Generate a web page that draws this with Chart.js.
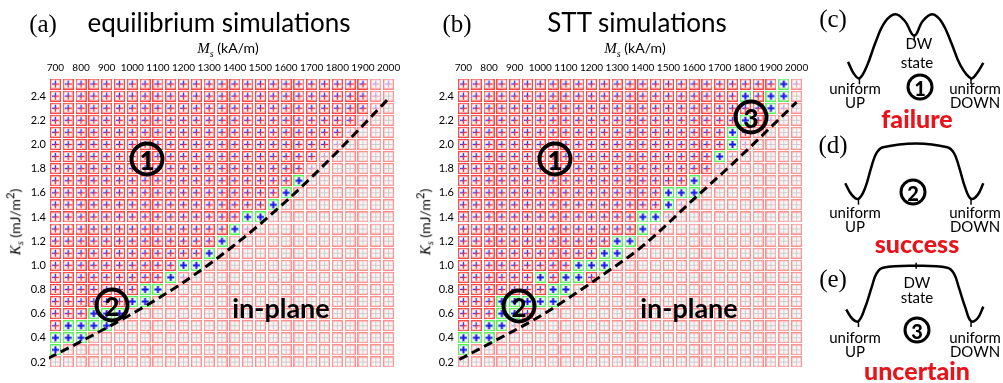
<!DOCTYPE html>
<html>
<head>
<meta charset="utf-8">
<script src="https://cdn.jsdelivr.net/npm/chart.js@4.4.1/dist/chart.umd.min.js"></script>
<style>
  html, body { margin: 0; padding: 0; background: #fff; }
  #wrap { position: relative; width: 1003px; height: 383px; overflow: hidden; font-family: Lato, 'Open Sans', sans-serif; color: #000; }
  canvas { position: absolute; top: 0; }
  .t { position: absolute; white-space: nowrap; transform: translate(-50%, -50%); line-height: 1; }
  .title { font-size: 26px; }
  .letter { font-family: 'Liberation Serif', serif; font-size: 25px; }
  .axis { font-size: 14px; }
  .axis i { font-family: 'Liberation Serif', serif; font-size: 15px; }
  .axis sub { font-family: 'Liberation Serif', serif; font-style: italic; font-size: 10px; }
  .vert { transform: translate(-50%, -50%) rotate(-90deg); }
  .circ { position: absolute; border: 3.5px solid #000; border-radius: 50%; box-sizing: border-box; transform: translate(-50%, -50%); display: flex; align-items: center; justify-content: center; font-weight: 900; line-height: 1; }
  .big { width: 35px; height: 35px; font-size: 26px; border-width: 4px; }
  .small { width: 27px; height: 27px; font-size: 20px; }
  .plane { font-size: 27px; font-weight: bold; }
  .sk { font-size: 15px; }
  .red { color: #e8141b; font-weight: 900; font-size: 25px; }
</style>
</head>
<body>
<div id="wrap">
  <canvas id="chartA" width="420" height="383" style="left:0px"></canvas>
  <canvas id="chartB" width="405" height="383" style="left:408px"></canvas>
  <canvas id="chartC" width="203" height="383" style="left:800px"></canvas>

  <!-- panel (a) -->
  <div class="t letter" style="left:43px;top:23px">(a)</div>
  <div class="t title" style="left:219px;top:22px">equilibrium simulations</div>
  <div class="t axis" style="left:228px;top:50px"><i>M</i><sub>s</sub> (kA/m)</div>
  <div class="t axis vert" style="left:15px;top:222px"><i>K</i><sub>s</sub> (mJ/m<sup>2</sup>)</div>
  <div class="circ big" style="left:147px;top:159px">1</div>
  <div class="circ big" style="left:112px;top:305px">2</div>
  <div class="t plane" style="left:281px;top:307px">in-plane</div>

  <!-- panel (b) -->
  <div class="t letter" style="left:457px;top:23px">(b)</div>
  <div class="t title" style="left:637px;top:22px">STT simulations</div>
  <div class="t axis" style="left:635px;top:50px"><i>M</i><sub>s</sub> (kA/m)</div>
  <div class="t axis vert" style="left:425px;top:222px"><i>K</i><sub>s</sub> (mJ/m<sup>2</sup>)</div>
  <div class="circ big" style="left:555px;top:159px">1</div>
  <div class="circ big" style="left:519px;top:306px">2</div>
  <div class="circ big" style="left:751px;top:117px">3</div>
  <div class="t plane" style="left:689px;top:307px">in-plane</div>

  <!-- sketches (c) (d) (e) -->
  <div class="t letter" style="left:833px;top:18px">(c)</div>
  <div class="t sk" style="left:919px;top:43px">DW</div>
  <div class="t sk" style="left:917px;top:62px">state</div>
  <div class="t sk" style="left:855px;top:88px">uniform</div>
  <div class="t sk" style="left:855px;top:102px">UP</div>
  <div class="t sk" style="left:975px;top:88px">uniform</div>
  <div class="t sk" style="left:975px;top:102px">DOWN</div>
  <div class="circ small" style="left:920px;top:87px">1</div>
  <div class="t red" style="left:917px;top:118px">failure</div>

  <div class="t letter" style="left:833px;top:144px">(d)</div>
  <div class="t sk" style="left:855px;top:212px">uniform</div>
  <div class="t sk" style="left:855px;top:226px">UP</div>
  <div class="t sk" style="left:975px;top:212px">uniform</div>
  <div class="t sk" style="left:975px;top:226px">DOWN</div>
  <div class="circ small" style="left:913px;top:192px">2</div>
  <div class="t red" style="left:917px;top:243px">success</div>

  <div class="t letter" style="left:833px;top:278px">(e)</div>
  <div class="t sk" style="left:917px;top:282px">DW</div>
  <div class="t sk" style="left:917px;top:297px">state</div>
  <div class="t sk" style="left:855px;top:337px">uniform</div>
  <div class="t sk" style="left:855px;top:351px">UP</div>
  <div class="t sk" style="left:975px;top:337px">uniform</div>
  <div class="t sk" style="left:975px;top:351px">DOWN</div>
  <div class="circ small" style="left:917px;top:330px">3</div>
  <div class="t red" style="left:917px;top:370px">uncertain</div>
</div>

<script>
// grid columns (Ms, kA/m) and rows (Ks, mJ/m^2), top row first
const msCols = [700, 750, 800, 850, 900, 950, 1000, 1050, 1100, 1150, 1200, 1250, 1300, 1350,
                1400, 1450, 1500, 1550, 1600, 1650, 1700, 1750, 1800, 1850, 1900, 1950, 2000];
const ksRows = [2.5, 2.4, 2.3, 2.2, 2.1, 2.0, 1.9, 1.8, 1.7, 1.6, 1.5, 1.4, 1.3, 1.2,
                1.1, 1.0, 0.9, 0.8, 0.7, 0.6, 0.5, 0.4, 0.3, 0.2];
const msTicks = [700, 800, 900, 1000, 1100, 1200, 1300, 1400, 1500, 1600, 1700, 1800, 1900, 2000];
const ksTicks = [0.2, 0.4, 0.6, 0.8, 1.0, 1.2, 1.4, 1.6, 1.8, 2.0, 2.2, 2.4];

// cell outcome per row, run-length: p = failure (perpendicular), g = success,
// f = faded / near boundary, i = in-plane
const stateA = [
  '25p,2f', '25p,1f,1i', '25p,1f,1i', '24p,1f,2i', '23p,1f,3i', '22p,1f,4i',
  '21p,1f,5i', '20p,1f,6i', '19p,1g,7i', '18p,1g,8i', '17p,1g,9i', '15p,2g,10i',
  '14p,1g,1f,11i', '13p,1g,13i', '12p,1g,14i', '10p,2g,15i', '9p,1g,1f,16i', '7p,2g,18i',
  '6p,2g,19i', '3p,3g,21i', '1p,4g,22i', '3g,24i', '1g,26i', '27i'
];
const stateB = [
  '25p,1g,1f', '22p,1g,1p,2g,1i', '24p,1g,1f,1i', '22p,1g,1p,1f,2i', '21p,1g,1p,1f,3i', '21p,1g,1f,4i',
  '20p,1g,1f,5i', '20p,1f,6i', '18p,1g,1f,7i', '16p,3g,8i', '16p,1g,1f,9i', '14p,2g,1f,10i',
  '14p,1g,1f,11i', '12p,2g,13i', '11p,2g,14i', '9p,3g,15i', '6p,1g,1p,2g,1p,16i', '7p,2g,18i',
  '3p,5g,19i', '3p,2g,1p,21i', '2p,2g,1f,22i', '3g,24i', '1g,26i', '27i'
];

// dashed in-plane boundary
const lineMsA = [672, 800, 1000, 1200, 1400, 1600, 1800, 2000];
const lineKsA = [0.23, 0.37, 0.60, 0.86, 1.17, 1.53, 1.94, 2.38];
const lineMsB = [684, 800, 1000, 1250, 1400, 1600, 1750, 2000];
const lineKsB = [0.22, 0.35, 0.58, 0.93, 1.16, 1.55, 1.84, 2.35];

// energy sketches, page pixel coords
const curveC = [[845,58],[851,70],[857,75],[865,62],[874,38],[884,17],[895,9],[905,16],[915,31],
                [924,16],[934,9],[944,17],[954,38],[964,62],[975,75],[981,70],[988,59]];
const curveD = [[842,183],[849,195],[856,199],[863,188],[870,165],[875,152],[882,146],[917,142],
                [950,146],[957,152],[962,165],[969,188],[975,199],[982,195],[988,183]];
const curveE = [[843,313],[850,323],[856,325],[863,311],[870,290],[875,276],[882,270],[917,268],
                [950,270],[957,276],[962,290],[969,311],[975,325],[982,322],[988,310]];
const markers = [[857,78],[975,78],[915,34],[856,202],[975,202],[856,328],[975,328],[917,268]];

function expand(rle) {
  const out = [];
  rle.split(',').forEach(part => {
    const n = parseInt(part, 10);
    const k = part.replace(/[0-9]/g, '');
    for (let j = 0; j < n; j++) out.push(k);
  });
  return out;
}

// little cell glyphs used as point styles
function glyph(kind) {
  const c = document.createElement('canvas');
  c.width = 11; c.height = 11;
  const g = c.getContext('2d');
  g.fillStyle = kind === 'i' ? '#f7f7f7' : '#fff';
  g.fillRect(0, 0, 11, 11);
  const seg = (x1, y1, x2, y2, col, w) => {
    g.strokeStyle = col; g.lineWidth = w;
    g.beginPath(); g.moveTo(x1, y1); g.lineTo(x2, y2); g.stroke();
  };
  const box = col => { g.strokeStyle = col; g.lineWidth = 1.3; g.strokeRect(0.65, 0.65, 9.7, 9.7); };
  if (kind === 'p' || kind === 'f') {
    const blue = kind === 'p' ? '#3434ee' : '#a4a4f2';
    const red = kind === 'p' ? '#ff2a2a' : '#ffa4a4';
    box(kind === 'p' ? '#ff4646' : '#ff8a8a');
    seg(2, 5.5, 5.5, 5.5, blue, 1.4);
    seg(5.5, 5.5, 9, 5.5, red, 1.4);
    seg(5.5, 2, 5.5, 5.5, blue, 1.4);
    seg(5.5, 5.5, 5.5, 9, red, 1.4);
  } else if (kind === 'g') {
    box('#5cec5c');
    seg(2, 5.5, 9, 5.5, '#1414e8', 2);
    seg(5.5, 2, 5.5, 9, '#1414e8', 2);
  } else {
    box('#ff9090');
    seg(1.5, 5.5, 9.5, 5.5, '#cccccc', 1);
    seg(5.5, 1.5, 5.5, 9.5, '#cccccc', 1);
  }
  return c;
}

const kinds = ['p', 'f', 'g', 'i'];
const glyphs = {};
kinds.forEach(k => { glyphs[k] = glyph(k); });

function gridChart(id, state, lineMs, lineKs, padRight) {
  const cells = { p: [], f: [], g: [], i: [] };
  state.forEach((rle, r) => {
    expand(rle).forEach((k, c) => cells[k].push({ x: msCols[c], y: ksRows[r] }));
  });

  const datasets = kinds.map(k => ({
    data: cells[k],
    pointStyle: glyphs[k],
    pointRadius: 6,
    order: 2
  }));
  datasets.push({
    data: lineMs.map((m, j) => ({ x: m, y: lineKs[j] })),
    showLine: true,
    borderColor: '#000',
    borderWidth: 3,
    borderDash: [9, 5],
    pointRadius: 0,
    cubicInterpolationMode: 'monotone',
    order: 0
  });

  return new Chart(document.getElementById(id), {
    type: 'scatter',
    data: { datasets },
    options: {
      responsive: false,
      animation: false,
      events: [],
      layout: { padding: { left: 0, right: padRight, top: 0, bottom: 15 } },
      plugins: { legend: { display: false }, tooltip: { enabled: false } },
      scales: {
        x: {
          type: 'linear', position: 'top', min: 675, max: 2025,
          afterBuildTicks: s => { s.ticks = msTicks.map(v => ({ value: v })); },
          afterFit: s => { s.height = 78; },
          grid: { display: false, drawTicks: false },
          border: { display: false },
          ticks: { color: '#000', font: { family: 'Lato', size: 10 }, padding: 4,
                   maxRotation: 0, autoSkip: false, callback: v => String(v) }
        },
        y: {
          type: 'linear', min: 0.15, max: 2.55,
          afterBuildTicks: s => { s.ticks = ksTicks.map(v => ({ value: v })); },
          afterFit: s => { s.width = 49; },
          grid: { display: false, drawTicks: false },
          border: { display: false },
          ticks: { color: '#000', font: { family: 'Lato', size: 11 }, padding: 3,
                   autoSkip: false, callback: v => v.toFixed(1) }
        }
      }
    }
  });
}

gridChart('chartA', stateA, lineMsA, lineKsA, 25);
gridChart('chartB', stateB, lineMsB, lineKsB, 10);

// === sketches ===
const toPts = arr => arr.map(p => ({ x: p[0], y: p[1] }));
const curveStyle = { showLine: true, borderColor: '#000', borderWidth: 2.5, pointRadius: 0, tension: 0.4 };
new Chart(document.getElementById('chartC'), {
  type: 'scatter',
  data: {
    datasets: [
      Object.assign({ data: toPts(curveC) }, curveStyle),
      Object.assign({ data: toPts(curveD) }, curveStyle),
      Object.assign({ data: toPts(curveE) }, curveStyle),
      { data: toPts(markers), pointStyle: 'line', rotation: 90, pointRadius: 3,
        borderColor: '#000', borderWidth: 1.5 }
    ]
  },
  options: {
    responsive: false,
    animation: false,
    events: [],
    clip: false,
    layout: { padding: 0 },
    plugins: { legend: { display: false }, tooltip: { enabled: false } },
    scales: {
      x: { type: 'linear', min: 800, max: 1003, display: false },
      y: { type: 'linear', min: 0, max: 383, reverse: true, display: false }
    }
  }
});
</script>
</body>
</html>
